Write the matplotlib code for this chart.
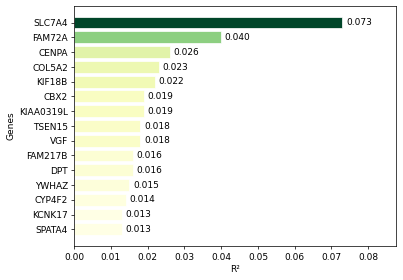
import matplotlib
matplotlib.use("Agg")
import matplotlib.pyplot as plt
from matplotlib import cm, colors

genes = ["SLC7A4", "FAM72A", "CENPA", "COL5A2", "KIF18B", "CBX2", "KIAA0319L",
         "TSEN15", "VGF", "FAM217B", "DPT", "YWHAZ", "CYP4F2", "KCNK17", "SPATA4"]
r2 = [0.073, 0.040, 0.026, 0.023, 0.022, 0.019, 0.019,
      0.018, 0.018, 0.016, 0.016, 0.015, 0.014, 0.013, 0.013]

fig, ax = plt.subplots(figsize=(6.2, 4.31), dpi=65)
fig.subplots_adjust(left=0.184, right=0.983, top=0.979, bottom=0.121)

norm = colors.Normalize(min(r2), max(r2))
bar_colors = [cm.YlGn(norm(v)) for v in r2]
ax.barh(range(len(genes)), r2, height=0.8, color=bar_colors, edgecolor="white", linewidth=0.8)
ax.set_yticks(range(len(genes)))
ax.set_yticklabels(genes)
ax.invert_yaxis()

for i, v in enumerate(r2):
    ax.text(v + 0.001, i, f"{v:.3f}", va="center", ha="left")

ax.set_xlim(0, max(r2) * 1.2)
ax.set_xlabel("R²")
ax.set_ylabel("Genes")

fig.savefig("out.png")
